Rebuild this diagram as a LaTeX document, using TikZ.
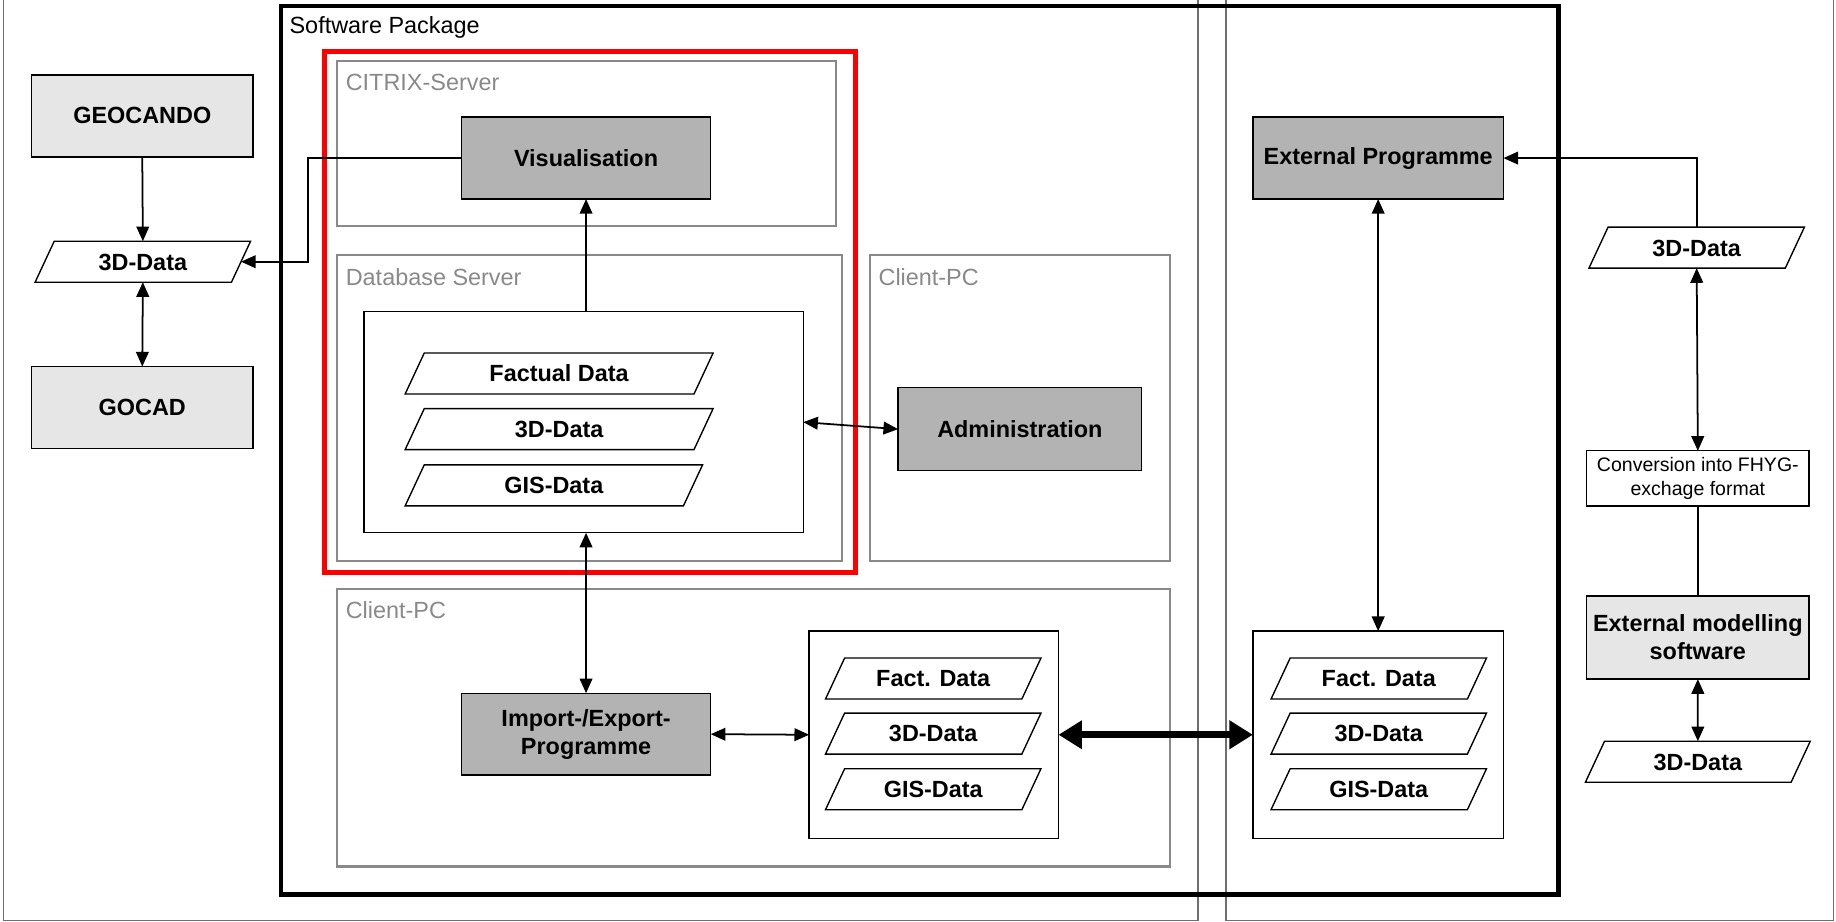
\documentclass[tikz,border=0pt]{standalone}
\usepackage{fontspec}
\setmainfont{Liberation Sans}
\usetikzlibrary{shapes.geometric,arrows.meta}
\definecolor{darkfill}{HTML}{B3B3B3}
\definecolor{lightfill}{HTML}{E6E6E6}
\definecolor{framegray}{HTML}{898989}
\tikzset{
  boxsize/.style 2 args={minimum width={#1*0.6pt},minimum height={#2*0.6pt}},
  base/.style={draw,inner sep=0pt,outer sep=0pt,line width=0.7pt,align=center,
    font=\fontsize{12}{14.4}\selectfont\bfseries},
  darkbox/.style={base,fill=darkfill},
  lightbox/.style={base,fill=lightfill},
  plainbox/.style={base,fill=white},
  dataslant/.style={base,fill=white,trapezium,trapezium left angle=65,
    trapezium right angle=115,trapezium stretches body,
    text height=8.6pt,text depth=0pt,inner ysep=6.2pt},
  group/.style={draw=framegray,line width=1.1pt,inner sep=0pt,outer sep=0pt},
  grouplabel/.style={text=framegray,anchor=base west,inner sep=0pt,
    font=\fontsize{12}{14}\selectfont},
  conn/.style={line width=0.9pt},
}
\begin{document}
\begin{tikzpicture}[x=0.6pt,y=-0.6pt,>={Triangle[length=7.5pt,width=6.5pt]}]
\useasboundingbox (0,0) rectangle (1568,787);
% outer frames
\draw[framegray!80!black,line width=0.8pt] (3,-5) rectangle (1023,786);
\draw[framegray!80!black,line width=0.8pt] (1047,-5) rectangle (1566,786);
% software package
\draw[line width=2.2pt] (240,5) rectangle (1331,764);
\node[anchor=base west,inner sep=0pt,font=\fontsize{12}{14}\selectfont] (swplabel) at (247,29) {Software Package};

% groups
\node[group,boxsize={426}{141}] (citrix) at (501,122.5) {};
\node[grouplabel] at ([shift={(7,25)}]citrix.north west) {CITRIX-Server};
\node[group,boxsize={431}{261}] (dbserver) at (503.5,348.5) {};
\node[grouplabel] at ([shift={(7,26)}]dbserver.north west) {Database Server};
\node[group,boxsize={256}{261}] (clienta) at (871,348.5) {};
\node[grouplabel] at ([shift={(7,26)}]clienta.north west) {Client-PC};
\node[group,boxsize={711}{237}] (clientb) at (643.5,621.5) {};
\node[grouplabel] at ([shift={(7,25)}]clientb.north west) {Client-PC};
\draw[red,line width=2.6pt] (277,44) rectangle (731,489);

% holders
\node[plainbox,boxsize={375}{189}] (dbin) at (498.5,360.5) {};
\node[plainbox,boxsize={213}{177}] (cdata) at (797.5,627.5) {};
\node[plainbox,boxsize={214}{177}] (rdata) at (1177,627.5) {};

% programmes
\node[darkbox,boxsize={213}{70}] (vis) at (500.5,135) {Visualisation};
\node[darkbox,boxsize={208}{71}] (admin) at (871,366.5) {Administration};
\node[darkbox,boxsize={213}{70}] (impexp) at (500.5,627) {Import-/Export-\\Programme};
\node[darkbox,boxsize={214}{70}] (extprog) at (1177,135) {External Programme};
\node[lightbox,boxsize={189}{70}] (geocando) at (121.5,99) {GEOCANDO};
\node[lightbox,boxsize={189}{70}] (gocad) at (121.5,348) {GOCAD};
\node[lightbox,boxsize={190}{71}] (extmod) at (1450,544.5) {External modelling\\software};
\node[plainbox,boxsize={190}{47},font=\fontsize{10}{12.6}\selectfont] (conv) at (1450,408.5) {Conversion into FHYG-\\exchage format};

% data
\node[dataslant,boxsize={184}{35}] (d3l) at (122,223.5) {3D-Data};
\node[dataslant,boxsize={263}{35}] (fdb) at (477.5,319) {Factual Data};
\node[dataslant,boxsize={263}{35}] (d3db) at (477.5,366.5) {3D-Data};
\node[dataslant,boxsize={254}{35}] (gisdb) at (473,414.5) {GIS-Data};
\node[dataslant,boxsize={184}{35}] (fcl) at (797,579.5) {Fact. Data};
\node[dataslant,boxsize={184}{35}] (d3cl) at (797,626.5) {3D-Data};
\node[dataslant,boxsize={184}{35}] (giscl) at (797,674) {GIS-Data};
\node[dataslant,boxsize={184}{35}] (fex) at (1177.5,579.5) {Fact. Data};
\node[dataslant,boxsize={184}{35}] (d3ex) at (1177.5,626.5) {3D-Data};
\node[dataslant,boxsize={184}{35}] (gisex) at (1177.5,674) {GIS-Data};
\node[dataslant,boxsize={184}{35}] (d3r) at (1449,211.5) {3D-Data};
\node[dataslant,boxsize={192}{35}] (d3rb) at (1450,650.5) {3D-Data};

% connectors
\coordinate (visbend) at (263,135);
\draw[conn,->] (geocando.south) -- (d3l.north);
\draw[conn,<->] (d3l.south) -- (gocad.north);
\draw[conn,->] (vis.west) -- (visbend) |- (d3l.east);
\draw[conn,->] (vis.south |- dbin.north) -- (vis.south);
\draw[conn,<->] (dbin.east) -- (admin.west);
\draw[conn,<->] (impexp.north) -- (impexp.north |- dbin.south);
\draw[conn,<->] (impexp.east) -- (cdata.west);
\draw[line width=3.6pt,{Triangle[length=12pt,width=14pt]}-{Triangle[length=12pt,width=14pt]}] (cdata.east) -- (rdata.west);
\draw[conn,<->] (extprog.south) -- (rdata.north);
\draw[conn,->] (d3r.north) |- (extprog.east);
\draw[conn,<->] (d3r.south) -- (conv.north);
\draw[conn] (conv.south) -- (extmod.north);
\draw[conn,<->] (extmod.south) -- (d3rb.north);
\end{tikzpicture}
\end{document}
